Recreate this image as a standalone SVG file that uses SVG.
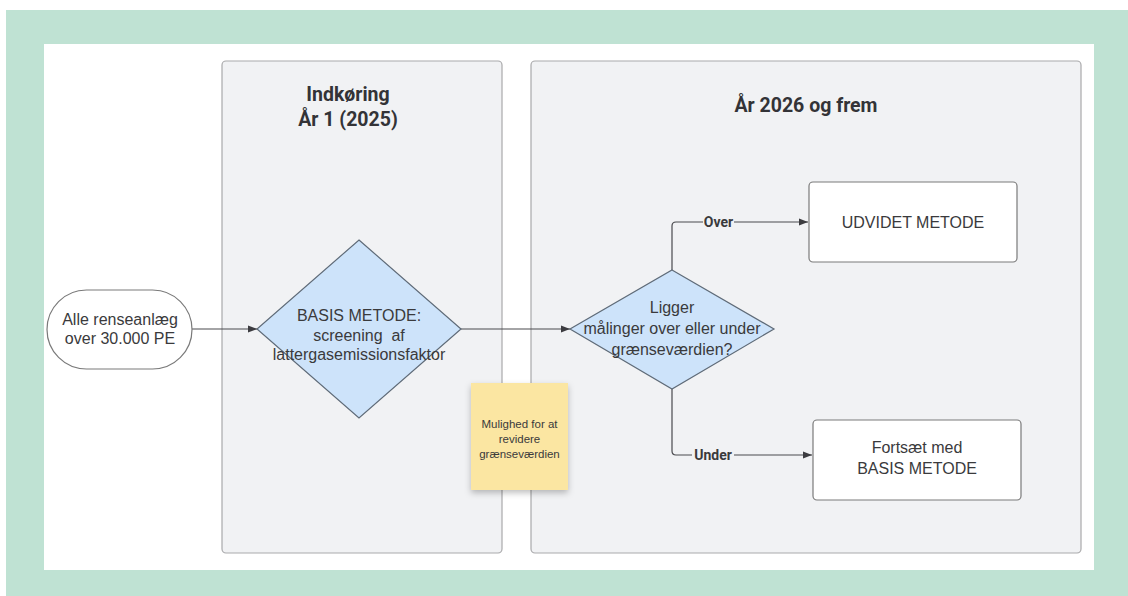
<svg xmlns="http://www.w3.org/2000/svg" width="1128" height="596" viewBox="0 0 1128 596">
<defs>
<style>
.lane{fill:#f1f2f4;stroke:#a9a9ab;stroke-width:1.2}
.box{fill:#ffffff;stroke:#7a7a7a;stroke-width:1.2}
.dia{fill:#cde3fa;stroke:#5f6b78;stroke-width:1.2}
.t{font-family:"Liberation Sans",Arial,sans-serif;fill:#3a3a3c;text-anchor:middle}
.n{font-size:16px}
.title{font-family:"Roboto","Liberation Sans",sans-serif;font-weight:bold;font-size:19.5px;fill:#333337;text-anchor:middle}
.lbl{font-family:"Roboto","Liberation Sans",sans-serif;font-weight:bold;font-size:14px;fill:#3a3a3c;text-anchor:middle}
.edge{fill:none;stroke:#4a4a4e;stroke-width:1.2}
</style>
<marker id="arr" viewBox="0 0 10 10" refX="10" refY="5" markerWidth="9" markerHeight="9" markerUnits="userSpaceOnUse" orient="auto">
<path d="M0,1 L10,5 L0,9 z" fill="#3c3c40"/>
</marker>
<filter id="sh" x="-20%" y="-20%" width="140%" height="140%">
<feDropShadow dx="0" dy="3" stdDeviation="3" flood-color="#000" flood-opacity="0.25"/>
</filter>
</defs>
<rect x="0" y="0" width="1128" height="596" fill="#ffffff"/>
<rect x="6" y="10" width="1122" height="586" fill="#bfe2d3"/>
<rect x="44" y="44" width="1050" height="526" fill="#ffffff"/>

<g id="lane1">
<rect class="lane" x="222" y="61" width="280" height="492" rx="4"/>
<text class="title" x="348" y="101">Indkøring</text>
<text class="title" x="348" y="126">År 1 (2025)</text>
</g>
<g id="lane2">
<rect class="lane" x="531" y="61" width="550" height="492" rx="4"/>
<text class="title" x="806" y="112">År 2026 og frem</text>
</g>

<g id="connectors">
<path class="edge" d="M192,329 L257,329" marker-end="url(#arr)"/>
<path class="edge" d="M461,329 L570,329" marker-end="url(#arr)"/>
<path class="edge" d="M672,270 L672,226 Q672,222 676,222 L808,222" marker-end="url(#arr)"/>
<path class="edge" d="M672,389 L672,451 Q672,455 676,455 L812,455" marker-end="url(#arr)"/>
<rect x="703" y="214" width="31" height="15" fill="#f1f2f4"/>
<text class="lbl" x="718.5" y="227">Over</text>
<rect x="692" y="447" width="42" height="15" fill="#f1f2f4"/>
<text class="lbl" x="713" y="460">Under</text>
</g>

<g id="start">
<rect class="box" x="47" y="290" width="145" height="79" rx="39.5" stroke="#555"/>
<text class="t n" x="120" y="325">Alle renseanlæg</text>
<text class="t n" x="120" y="344">over 30.000 PE</text>
</g>

<g id="basis">
<path class="dia" d="M359,240 L461,329 L359,418 L257,329 Z"/>
<text class="t n" x="359" y="321">BASIS METODE:</text>
<text class="t n" x="359" y="341">screening&#160;&#160;af</text>
<text class="t n" x="359" y="360">lattergasemissionsfaktor</text>
</g>

<g id="decision">
<path class="dia" d="M672,270 L774,329 L672,389 L570,329 Z"/>
<text class="t n" x="672" y="313">Ligger</text>
<text class="t n" x="672" y="334">målinger over eller under</text>
<text class="t n" x="672" y="355">grænseværdien?</text>
</g>

<g id="udvidet">
<rect class="box" x="809" y="182" width="208" height="80" rx="4"/>
<text class="t n" x="913" y="228">UDVIDET METODE</text>
</g>

<g id="fortsaet">
<rect class="box" x="813" y="420" width="208" height="80" rx="4"/>
<text class="t n" x="917" y="453">Fortsæt med</text>
<text class="t n" x="917" y="474">BASIS METODE</text>
</g>

<g id="note">
<rect x="471" y="383" width="97" height="107" fill="#fbe6a2" filter="url(#sh)"/>
<text class="t" font-size="11.5" x="519.5" y="428">Mulighed for at</text>
<text class="t" font-size="11.5" x="519.5" y="443">revidere</text>
<text class="t" font-size="11.5" x="519.5" y="458">grænseværdien</text>
</g>
</svg>
